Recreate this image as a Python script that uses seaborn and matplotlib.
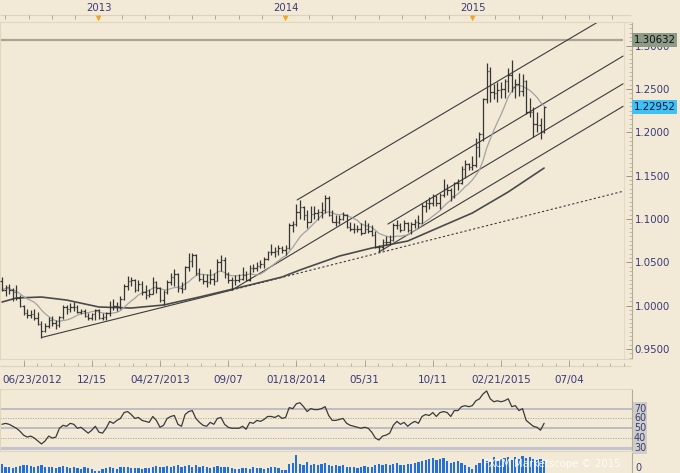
import numpy as np
import pandas as pd
import matplotlib
matplotlib.use("Agg")
import matplotlib.pyplot as plt
import seaborn as sns

# ---------------- data (weekly USD/CAD) ----------------
open_ = [1.0280, 1.0185, 1.0215, 1.0180, 1.0160, 1.0090, 1.0000, 0.9920, 0.9890, 0.9900,
         0.9860, 0.9790, 0.9710, 0.9760, 0.9830, 0.9800, 0.9780, 0.9870, 0.9990, 0.9960,
         0.9990, 0.9990, 0.9930, 0.9940, 0.9880, 0.9860, 0.9900, 0.9950, 0.9860, 0.9870,
         0.9920, 0.9990, 1.0000, 1.0000, 1.0080, 1.0230, 1.0290, 1.0300, 1.0180, 1.0250,
         1.0160, 1.0120, 1.0140, 1.0270, 1.0200, 1.0070, 1.0160, 1.0270, 1.0330, 1.0370,
         1.0200, 1.0190, 1.0450, 1.0510, 1.0590, 1.0380, 1.0310, 1.0290, 1.0270, 1.0310,
         1.0290, 1.0500, 1.0530, 1.0360, 1.0300, 1.0300, 1.0300, 1.0310, 1.0350, 1.0300,
         1.0430, 1.0430, 1.0460, 1.0480, 1.0540, 1.0620, 1.0620, 1.0630, 1.0670, 1.0640,
         1.0660, 1.0930, 1.0940, 1.1080, 1.1140, 1.1050, 1.0960, 1.1060, 1.1070, 1.1080,
         1.1100, 1.1240, 1.1050, 1.0970, 1.0960, 1.1000, 1.1050, 1.0910, 1.0880, 1.0890,
         1.0890, 1.0840, 1.0890, 1.0860, 1.0820, 1.0680, 1.0680, 1.0740, 1.0740, 1.0760,
         1.0930, 1.0930, 1.0870, 1.0950, 1.0870, 1.0940, 1.0960, 1.0950, 1.1150, 1.1180,
         1.1190, 1.1270, 1.1180, 1.1280, 1.1350, 1.1330, 1.1270, 1.1420, 1.1420, 1.1580,
         1.1630, 1.1600, 1.1620, 1.1830, 1.1980, 1.2390, 1.2710, 1.2460, 1.2450, 1.2490,
         1.2500, 1.2590, 1.2660, 1.2520, 1.2560, 1.2480, 1.2590, 1.2240, 1.2230, 1.2100,
         1.2080, 1.2000]
high = [1.0330, 1.0235, 1.0250, 1.0200, 1.0235, 1.0120, 1.0010, 0.9960, 0.9950, 0.9960,
        0.9930, 0.9820, 0.9800, 0.9870, 0.9880, 0.9840, 0.9880, 1.0010, 1.0010, 1.0030,
        1.0040, 1.0010, 0.9960, 0.9960, 0.9910, 0.9920, 0.9960, 0.9960, 0.9920, 0.9930,
        1.0050, 1.0080, 1.0040, 1.0110, 1.0250, 1.0340, 1.0330, 1.0310, 1.0300, 1.0280,
        1.0240, 1.0190, 1.0330, 1.0290, 1.0210, 1.0180, 1.0300, 1.0380, 1.0420, 1.0380,
        1.0270, 1.0460, 1.0610, 1.0610, 1.0600, 1.0440, 1.0370, 1.0370, 1.0420, 1.0380,
        1.0540, 1.0590, 1.0560, 1.0390, 1.0330, 1.0350, 1.0370, 1.0450, 1.0400, 1.0470,
        1.0480, 1.0500, 1.0530, 1.0560, 1.0630, 1.0710, 1.0680, 1.0700, 1.0690, 1.0700,
        1.0950, 1.0980, 1.1170, 1.1220, 1.1150, 1.1100, 1.1150, 1.1150, 1.1120, 1.1200,
        1.1280, 1.1270, 1.1100, 1.1050, 1.1050, 1.1080, 1.1060, 1.0970, 1.0950, 1.0930,
        1.0950, 1.0990, 1.0950, 1.0930, 1.0860, 1.0700, 1.0770, 1.0800, 1.0810, 1.0950,
        1.0990, 1.0950, 1.0990, 1.0960, 1.0970, 1.1000, 1.1050, 1.1180, 1.1220, 1.1250,
        1.1290, 1.1280, 1.1300, 1.1460, 1.1400, 1.1360, 1.1430, 1.1460, 1.1610, 1.1680,
        1.1650, 1.1730, 1.1930, 1.2000, 1.2400, 1.2800, 1.2750, 1.2560, 1.2580, 1.2580,
        1.2620, 1.2740, 1.2830, 1.2620, 1.2690, 1.2670, 1.2600, 1.2400, 1.2290, 1.2240,
        1.2170, 1.2300]
low = [1.0170, 1.0110, 1.0140, 1.0050, 1.0070, 0.9980, 0.9890, 0.9860, 0.9860, 0.9840,
       0.9780, 0.9633, 0.9700, 0.9740, 0.9770, 0.9730, 0.9750, 0.9850, 0.9900, 0.9930,
       0.9940, 0.9920, 0.9900, 0.9870, 0.9830, 0.9830, 0.9840, 0.9850, 0.9840, 0.9840,
       0.9880, 0.9950, 0.9940, 0.9960, 1.0070, 1.0180, 1.0230, 1.0160, 1.0170, 1.0120,
       1.0080, 1.0100, 1.0140, 1.0150, 1.0040, 1.0010, 1.0140, 1.0240, 1.0230, 1.0160,
       1.0150, 1.0190, 1.0400, 1.0450, 1.0350, 1.0290, 1.0250, 1.0220, 1.0250, 1.0240,
       1.0280, 1.0400, 1.0320, 1.0260, 1.0180, 1.0240, 1.0270, 1.0300, 1.0280, 1.0290,
       1.0390, 1.0400, 1.0430, 1.0440, 1.0530, 1.0580, 1.0560, 1.0590, 1.0610, 1.0590,
       1.0650, 1.0850, 1.0920, 1.1000, 1.0990, 1.0900, 1.0960, 1.1000, 1.0990, 1.1010,
       1.1070, 1.1030, 1.0960, 1.0920, 1.0940, 1.0990, 1.0900, 1.0860, 1.0840, 1.0850,
       1.0810, 1.0840, 1.0840, 1.0800, 1.0660, 1.0620, 1.0640, 1.0700, 1.0700, 1.0750,
       1.0880, 1.0850, 1.0870, 1.0850, 1.0830, 1.0900, 1.0900, 1.0950, 1.1080, 1.1120,
       1.1150, 1.1150, 1.1110, 1.1250, 1.1280, 1.1210, 1.1240, 1.1330, 1.1400, 1.1470,
       1.1560, 1.1560, 1.1600, 1.1720, 1.1900, 1.2340, 1.2350, 1.2380, 1.2350, 1.2400,
       1.2400, 1.2470, 1.2460, 1.2400, 1.2420, 1.2420, 1.2210, 1.2180, 1.1950, 1.2000,
       1.1920, 1.1990]
close = [1.0185, 1.0215, 1.0180, 1.0160, 1.0090, 1.0000, 0.9920, 0.9890, 0.9900, 0.9860,
         0.9790, 0.9710, 0.9760, 0.9830, 0.9800, 0.9780, 0.9870, 0.9990, 0.9960, 0.9990,
         0.9990, 0.9930, 0.9940, 0.9880, 0.9860, 0.9900, 0.9950, 0.9860, 0.9870, 0.9920,
         0.9990, 1.0000, 1.0000, 1.0080, 1.0230, 1.0290, 1.0300, 1.0180, 1.0250, 1.0160,
         1.0120, 1.0140, 1.0270, 1.0200, 1.0070, 1.0160, 1.0270, 1.0330, 1.0370, 1.0200,
         1.0190, 1.0450, 1.0510, 1.0590, 1.0380, 1.0310, 1.0290, 1.0270, 1.0310, 1.0290,
         1.0500, 1.0530, 1.0360, 1.0300, 1.0300, 1.0300, 1.0310, 1.0350, 1.0300, 1.0430,
         1.0430, 1.0460, 1.0480, 1.0540, 1.0620, 1.0620, 1.0630, 1.0670, 1.0640, 1.0660,
         1.0930, 1.0940, 1.1080, 1.1140, 1.1050, 1.0960, 1.1060, 1.1070, 1.1080, 1.1100,
         1.1240, 1.1050, 1.0970, 1.0960, 1.1000, 1.1050, 1.0910, 1.0880, 1.0890, 1.0890,
         1.0840, 1.0890, 1.0860, 1.0820, 1.0680, 1.0680, 1.0740, 1.0740, 1.0760, 1.0930,
         1.0930, 1.0870, 1.0950, 1.0870, 1.0940, 1.0960, 1.0950, 1.1150, 1.1180, 1.1190,
         1.1270, 1.1180, 1.1280, 1.1350, 1.1330, 1.1270, 1.1420, 1.1420, 1.1580, 1.1630,
         1.1600, 1.1620, 1.1830, 1.1980, 1.2390, 1.2710, 1.2460, 1.2450, 1.2490, 1.2500,
         1.2590, 1.2660, 1.2520, 1.2560, 1.2480, 1.2590, 1.2240, 1.2230, 1.2100, 1.2080,
         1.2000, 1.2295]
rsi = [54, 55, 54, 52, 50, 47, 43, 41, 42, 40, 37, 34, 37, 42, 40, 41, 50, 53, 52, 55,
       54, 50, 51, 48, 45, 48, 52, 46, 45, 50, 57, 55, 58, 60, 66, 67, 64, 60, 61, 58,
       57, 56, 62, 58, 51, 53, 60, 62, 63, 54, 52, 64, 67, 68, 60, 56, 53, 52, 56, 54,
       60, 61, 54, 51, 50, 50, 50, 52, 49, 56, 55, 58, 57, 59, 62, 62, 61, 63, 60, 61,
       71, 70, 75, 76, 72, 67, 70, 69, 69, 70, 72, 63, 58, 58, 59, 60, 55, 53, 52, 51,
       50, 51, 50, 46, 40, 38, 42, 43, 45, 53, 57, 54, 56, 52, 55, 57, 55, 62, 64, 63,
       66, 62, 66, 67, 66, 62, 68, 68, 72, 73, 72, 73, 78, 80, 85, 88, 80, 77, 78, 77,
       78, 80, 72, 73, 68, 70, 58, 55, 52, 51, 48, 55]
volume = [45, 30, 28, 26, 32, 35, 38, 42, 36, 30, 34, 40, 30, 28, 32, 25, 30, 34, 30, 27,
          28, 24, 22, 28, 25, 22, 12, 10, 20, 24, 28, 26, 22, 30, 32, 28, 26, 25, 24, 22,
          26, 24, 30, 34, 28, 32, 36, 30, 34, 38, 30, 36, 40, 32, 38, 30, 34, 28, 26, 30,
          36, 32, 30, 28, 24, 22, 20, 24, 26, 22, 28, 26, 24, 22, 26, 30, 28, 26, 14, 16,
          45, 50, 90, 45, 40, 55, 40, 46, 38, 44, 52, 40, 36, 42, 34, 38, 30, 28, 32, 26,
          30, 34, 30, 28, 40, 44, 38, 46, 40, 44, 48, 42, 40, 46, 44, 50, 54, 60, 66, 72,
          76, 66, 70, 74, 58, 52, 56, 60, 52, 40, 30, 20, 38, 52, 68, 62, 56, 80, 60, 70,
          76, 82, 66, 78, 70, 86, 74, 80, 72, 66, 70, 60]
slow_ma_weeks = [0, 4, 11, 18, 27, 36, 45, 55, 69, 78, 83, 94, 103, 113, 122, 131, 141, 151]
slow_ma_vals = [1.0042, 1.0089, 1.0100, 1.0065, 0.9985, 0.9973, 1.0008, 1.0100, 1.0239,
                1.0331, 1.0412, 1.0573, 1.0665, 1.0746, 1.0908, 1.1069, 1.1312, 1.1588]

# drawn lines (week, price) endpoints
trend_solid_w = [11, 64]
trend_solid_p = [0.9633, 1.0180]
trend_dotted_w = [64, 173]
trend_dotted_p = [1.0180, 1.1320]
channel_w = [[82.2, 173], [64, 173], [107.5, 173], [105, 173]]
channel_p = [[1.1220, 1.3445], [1.0180, 1.2880], [1.0942, 1.2560], [1.0620, 1.2300]]

date_tick_weeks = [25, 44, 63, 82, 101, 120, 139, 158]
date_tick_labels = ['12/15', '04/27/2013', '09/07', '01/18/2014', '05/31',
                    '10/11', '02/21/2015', '07/04']
first_date_label = '06/23/2012'
year_weeks = [26.9, 79.0, 131.1]
year_labels = ['2013', '2014', '2015']
price_ticks = [0.95, 1.00, 1.05, 1.10, 1.15, 1.20, 1.25, 1.30]
rsi_levels = [70, 60, 50, 40, 30]
level_line = 1.30632
last_price = 1.22952

# ---------------- style ----------------
sns.set_theme(style='white')
plt.rcParams['font.family'] = ['DejaVu Sans']
BG = '#F2EAD7'
TXT = '#3a3a78'
BAR = '#353535'

W, H = 680, 473
PXW = 3.59      # pixels per week
X0 = 2.0        # pixel of week 0


def rect(x0, y0, x1, y1):
    return [x0 / W, 1 - y1 / H, (x1 - x0) / W, (y1 - y0) / H]


def wk(px):
    return (px - X0) / PXW


XL = (wk(0), wk(632))

fig = plt.figure(figsize=(6.8, 4.73), dpi=100)
fig.patch.set_facecolor(BG)

weeks = np.arange(len(close))

# ---------------- main price panel ----------------
ax = fig.add_axes(rect(0, 22, 632, 359))
ax.set_facecolor(BG)
ax.set_xlim(*XL)
ax.set_ylim(0.9385, 1.3273)

ax.hlines(level_line, XL[0], 173, color='#aaa491', lw=1.6, zorder=1)
ax.axvline(173.2, color='#e3d9c2', lw=0.8, zorder=0)

ax.plot(trend_solid_w, trend_solid_p, color='#3c3c3c', lw=0.8, zorder=2)
ax.plot(trend_dotted_w, trend_dotted_p, color='#3c3c3c', lw=0.8,
        ls=(0, (2, 2)), zorder=2)
for cw, cp in zip(channel_w, channel_p):
    ax.plot(cw, cp, color='#3c3c3c', lw=0.8, zorder=2)

sns.lineplot(x=slow_ma_weeks, y=slow_ma_vals, ax=ax, color='#4a4a4a',
             linewidth=1.2, legend=False, zorder=2)
fast_ma = pd.Series(close).rolling(10, min_periods=1).mean()
sns.lineplot(x=weeks, y=fast_ma.values, ax=ax, color='#a3a3a3',
             linewidth=0.9, legend=False, zorder=2)

ax.vlines(weeks, low, high, color=BAR, lw=0.9, zorder=3)
ax.hlines(open_, weeks - 0.42, weeks, color=BAR, lw=0.9, zorder=3)
ax.hlines(close, weeks, weeks + 0.42, color=BAR, lw=0.9, zorder=3)

ax.yaxis.tick_right()
ax.set_yticks(price_ticks)
ax.set_yticklabels([f'{v:.4f}' for v in price_ticks])
ax.set_yticks(np.arange(0.94, 1.3251, 0.005), minor=True)
ax.tick_params(axis='y', which='major', direction='in', length=4, width=0.7,
               colors='#9c9484', labelcolor=TXT, labelsize=7.4, pad=2)
ax.tick_params(axis='y', which='minor', direction='in', length=2, width=0.5,
               colors='#b0a894')
ax.set_xticks([])
for s in ['top', 'left', 'bottom']:
    ax.spines[s].set_color('#e0d5bd')
    ax.spines[s].set_linewidth(0.8)
ax.spines['right'].set_color('#b3aa96')
ax.spines['right'].set_linewidth(0.8)
ax.set_xlabel('')
ax.set_ylabel('')

for val, txt, fc, tc in [(level_line, '1.30632', '#8d9b87', '#111111'),
                         (last_price, '1.22952', '#3fc1f2', '#0d1540')]:
    ax.text(1.0025, val, txt, transform=ax.get_yaxis_transform(), ha='left',
            va='center', fontsize=7.4, color=tc, zorder=10, clip_on=False,
            bbox=dict(boxstyle='square,pad=0.18', fc=fc, ec='none'))

# ---------------- top year strip ----------------
axt = fig.add_axes(rect(0, 0, 632, 22))
axt.set_xlim(*XL)
axt.set_ylim(22, 0)
axt.axis('off')
axt.hlines(15, XL[0], wk(631), color='#ddd2ba', lw=0.8)
minor_top = np.arange(year_weeks[0] - 4 * 6.5, XL[1], 6.5)
axt.vlines(minor_top, 15, 19, color='#a59d8c', lw=0.6)
for w, lab in zip(year_weeks, year_labels):
    axt.text(w, 8, lab, ha='center', va='center', fontsize=7.3, color=TXT)
axt.scatter(year_weeks, [18.5] * len(year_weeks), marker='v', s=16,
            color='#f5a21c', edgecolors='none', zorder=5)

# ---------------- bottom date strip ----------------
axb = fig.add_axes(rect(0, 359, 632, 389))
axb.set_xlim(*XL)
axb.set_ylim(389, 359)
axb.axis('off')
axb.hlines(366, XL[0], wk(631), color='#ddd2ba', lw=0.8)
major_b = [6] + date_tick_weeks
axb.vlines(major_b, 360, 366, color='#a59d8c', lw=0.6)
minor_b = np.arange(6, XL[1], 3.8)
axb.vlines(minor_b, 363, 366, color='#a59d8c', lw=0.5)
axb.text(0, 380, first_date_label, ha='left', va='center', fontsize=7.5, color=TXT)
for w, lab in zip(date_tick_weeks, date_tick_labels):
    axb.text(w, 380, lab, ha='center', va='center', fontsize=7.5, color=TXT)

# ---------------- RSI panel ----------------
axr = fig.add_axes(rect(0, 389, 632, 451))
axr.set_facecolor(BG)
axr.set_xlim(*XL)
axr.set_ylim(26.8, 90)
for lv in rsi_levels:
    if lv in (70, 50):
        axr.axhline(lv, color='#b4b3c2', lw=1.2, zorder=1)
    elif lv == 30:
        axr.axhline(lv, color='#c4c3d0', lw=2.2, zorder=1)
    else:
        axr.axhline(lv, color='#a8a49a', lw=0.6, ls=(0, (1.5, 1.5)), zorder=1)
sns.lineplot(x=weeks, y=rsi, ax=axr, color='#3a3a3a', linewidth=0.9,
             legend=False, zorder=3)
axr.set_xticks([])
axr.set_yticks([])
axr.set_xlabel('')
axr.set_ylabel('')
for s in ['top', 'left', 'bottom']:
    axr.spines[s].set_color('#e0d5bd')
    axr.spines[s].set_linewidth(0.8)
axr.spines['right'].set_color('#b3aa96')
axr.spines['right'].set_linewidth(0.8)
for lv in rsi_levels:
    axr.text(1.003, lv, str(lv), transform=axr.get_yaxis_transform(), ha='left',
             va='center', fontsize=6.9, color=TXT, clip_on=False,
             bbox=dict(boxstyle='square,pad=0.12', fc='#cfcdc8', ec='none'))

# ---------------- volume panel ----------------
axv = fig.add_axes(rect(0, 453, 632, 473))
axv.set_facecolor(BG)
sns.barplot(x=weeks, y=volume, native_scale=True, width=0.62, color='#2470d6',
            saturation=1, errorbar=None, linewidth=0, ax=axv)
axv.set_xlim(*XL)
axv.set_ylim(0, 100)
axv.set_xticks([])
axv.set_yticks([])
axv.set_xlabel('')
axv.set_ylabel('')
for s in ['top', 'left', 'bottom']:
    axv.spines[s].set_visible(False)
axv.spines['right'].set_color('#b3aa96')
axv.spines['right'].set_linewidth(0.8)
axv.text(1.006, 0.0, '0', transform=axv.transAxes, ha='left', va='bottom',
         fontsize=6.9, color=TXT, clip_on=False)

fig.text(483 / W, 1 - 464 / H, 'FXCM Marketscope \u00a9 2015', color='white',
         alpha=0.85, fontsize=7.3, ha='left', va='center', zorder=20)

fig.savefig('out.png', dpi=100, facecolor=BG)
